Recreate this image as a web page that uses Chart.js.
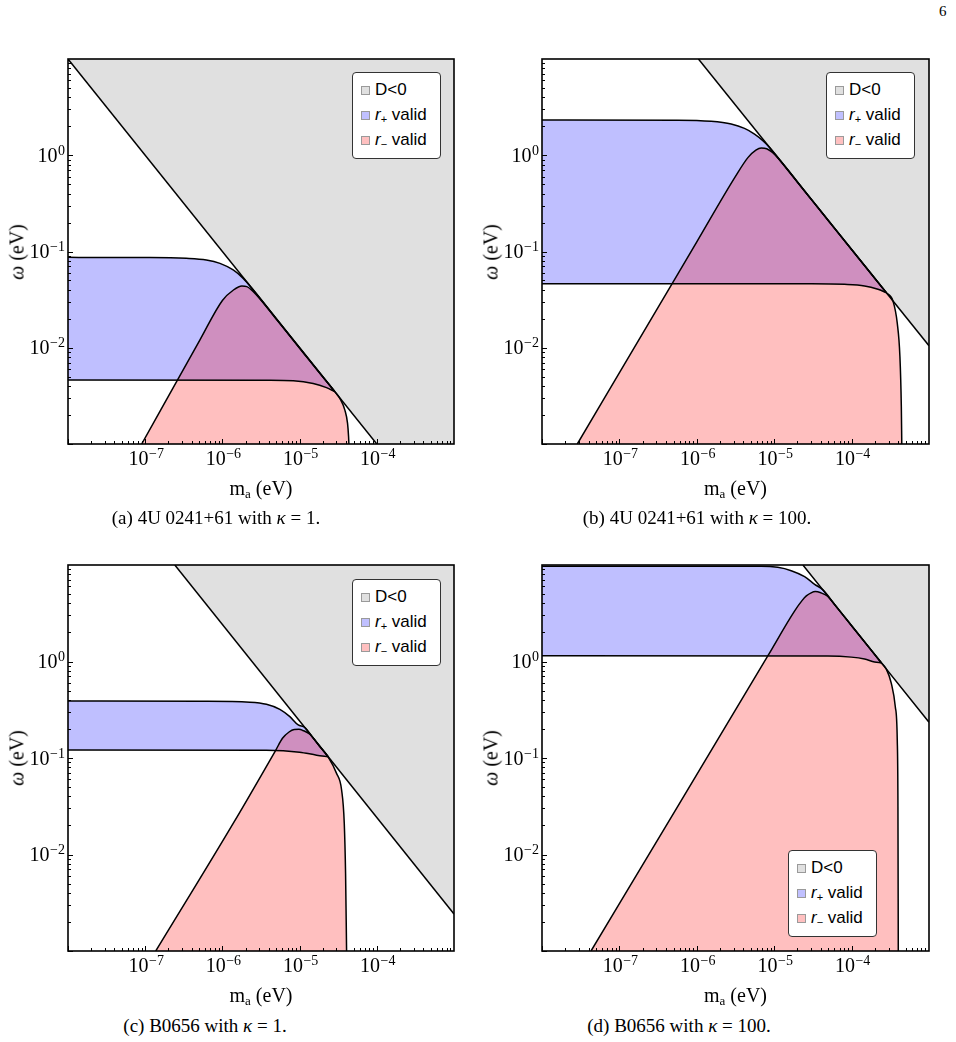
<!DOCTYPE html>
<html>
<head>
<meta charset="utf-8">
<title>r+ / r- validity regions</title>
<script src="https://cdn.jsdelivr.net/npm/chart.js@4.4.1/dist/chart.umd.min.js"></script>
<style>
html, body { margin: 0; padding: 0; background: #fff; }
body { position: relative; width: 956px; height: 1042px; overflow: hidden; font-family: "Liberation Serif", "DejaVu Serif", serif; color: #000; }
canvas { position: absolute; }
.lbl { position: absolute; white-space: nowrap; transform: translate(-50%, -50%); }
.xt { font-size: 20px; }
.xt sub { font-size: 13px; vertical-align: -3px; line-height: 0; }
.yt { font-size: 20px; transform: translate(-50%, -50%) rotate(-90deg); }
.cap { font-size: 19px; }
.page { position: absolute; left: 939px; top: 3px; font-size: 15px; }
.legend { position: absolute; width: 87px; height: 85px; border: 1px solid #333; border-radius: 4px; background: #fff; font-family: "Liberation Sans", Arial, sans-serif; font-size: 17px; }
.legend .row { position: absolute; left: 8px; height: 20px; line-height: 20px; white-space: nowrap; }
.legend .sw { position: absolute; left: 0; top: 6px; width: 7px; height: 7px; border: 1px solid #9a9a9a; }
.legend .tx { position: absolute; left: 14px; top: 0; }
.legend sub { font-size: 11px; vertical-align: -3px; line-height: 0; }
</style>
</head>
<body>
<div class="page">6</div>

<canvas id="pa" width="478" height="470"></canvas>
<canvas id="pb" width="478" height="470"></canvas>
<canvas id="pc" width="478" height="470"></canvas>
<canvas id="pd" width="478" height="470"></canvas>

<script>
// axis ranges (all four panels share them)
const xRange = [1e-8, 1e-3];
const yRange = [1e-3, 10];
const xLabelPowers = [-7, -6, -5, -4];
const yLabelPowers = [0, -1, -2];

const captions = [
  '(a) 4U 0241+61 with <i>κ</i> = 1.',
  '(b) 4U 0241+61 with <i>κ</i> = 100.',
  '(c) B0656 with <i>κ</i> = 1.',
  '(d) B0656 with <i>κ</i> = 100.'
];

// ---- (a) 4U 0241+61, kappa = 1 ----  points are [m_a, omega] in eV
const dLineA  = [[1e-8, 10], [1e-3, 1e-4]];
const upperA  = [[1e-8, 0.0869], [1.15e-7, 0.0866], [3.4e-7, 0.0849], [6.2e-7, 0.0816], [9.3e-7, 0.0753],
                 [1.38e-6, 0.0643], [1.86e-6, 0.0526], [2.4e-6, 0.0417]];
const edgeA   = [[5e-6, 0.02], [1e-5, 0.01], [2.86e-5, 0.0035]];
const lowerA  = [[1e-8, 0.00462], [4e-6, 0.0046], [8.3e-6, 0.00455], [1.5e-5, 0.00426], [2.23e-5, 0.00385], [2.86e-5, 0.0035]];
const minusA  = [[9e-8, 0.001], [5.1e-7, 0.012], [1.0e-6, 0.031], [1.39e-6, 0.0398], [1.79e-6, 0.0438], [2.07e-6, 0.0432],
                 [2.5e-6, 0.0385], [5e-6, 0.0198], [1e-5, 0.0099], [2e-5, 0.00495], [2.86e-5, 0.0035], [3.33e-5, 0.00296],
                 [3.86e-5, 0.00225], [4.18e-5, 0.00164], [4.31e-5, 0.00119], [4.35e-5, 0.001]];

// ---- (b) 4U 0241+61, kappa = 100 ----
const dLineB  = [[1.05e-6, 10], [1e-3, 0.0105]];
const upperB  = [[1e-8, 2.32], [5.7e-7, 2.31], [1.53e-6, 2.25], [2.78e-6, 2.11], [4.13e-6, 1.9], [5.57e-6, 1.66],
                 [7.13e-6, 1.42], [8.5e-6, 1.235]];
const edgeB   = [[2e-5, 0.525], [5e-5, 0.21], [1e-4, 0.105], [2.81e-4, 0.0374]];
const lowerB  = [[1e-8, 0.0463], [3e-5, 0.0462], [8.1e-5, 0.0456], [1.47e-4, 0.0439], [2.19e-4, 0.0405], [2.81e-4, 0.0374]];
const minusB  = [[2.86e-8, 0.001], [3.16e-7, 0.0263], [1e-6, 0.126], [3.16e-6, 0.603], [4.6e-6, 0.95], [5.8e-6, 1.13],
                 [6.8e-6, 1.19], [8e-6, 1.17], [9.5e-6, 1.07], [1.2e-5, 0.875], [3e-5, 0.35], [1e-4, 0.105],
                 [2.81e-4, 0.0374], [3.42e-4, 0.0307], [3.89e-4, 0.018], [4.21e-4, 0.00807], [4.39e-4, 0.00244], [4.45e-4, 0.001]];

// ---- (c) B0656, kappa = 1 ----
const dLineC  = [[2.42e-7, 10], [1e-3, 0.00242]];
const upperC  = [[1e-8, 0.39], [5.1e-7, 0.387], [2.26e-6, 0.378], [3.72e-6, 0.36], [5.55e-6, 0.319], [7.48e-6, 0.268],
                 [9.6e-6, 0.22], [1.17e-5, 0.207]];
const edgeC   = [[1.5e-5, 0.161], [2.35e-5, 0.103]];
const lowerC  = [[1e-8, 0.121], [3.72e-6, 0.1205], [1e-5, 0.115], [1.66e-5, 0.107], [2.35e-5, 0.103]];
const minusC  = [[1.37e-7, 0.001], [1.38e-6, 0.021], [4.92e-6, 0.121], [6.0e-6, 0.16], [7.3e-6, 0.186], [8.5e-6, 0.197],
                 [9.8e-6, 0.198], [1.1e-5, 0.193], [1.36e-5, 0.176], [1.8e-5, 0.133], [2.35e-5, 0.102], [3.01e-5, 0.0693],
                 [3.5e-5, 0.0466], [3.79e-5, 0.021], [3.94e-5, 0.00638], [4.06e-5, 0.001]];

// ---- (d) B0656, kappa = 100 ----
const dLineD  = [[2.35e-5, 10], [1e-3, 0.235]];
const upperD  = [[1e-8, 9.7], [6.8e-6, 9.7], [1.11e-5, 9.46], [1.66e-5, 8.73], [2.47e-5, 7.57], [3.33e-5, 6.31], [4.26e-5, 5.52]];
const edgeD   = [[6e-5, 3.92], [1e-4, 2.35], [2.42e-4, 0.971]];
const lowerD  = [[1e-8, 1.15], [4.94e-5, 1.14], [9.9e-5, 1.11], [1.47e-4, 1.06], [1.98e-4, 0.99], [2.42e-4, 0.971]];
const minusD  = [[4.3e-8, 0.001], [5.7e-7, 0.0317], [8.3e-6, 1.15], [1.83e-5, 3.33], [2.3e-5, 4.3], [2.6e-5, 4.78],
                 [3.0e-5, 5.15], [3.4e-5, 5.3], [4.0e-5, 5.15], [4.9e-5, 4.75], [6e-5, 3.91], [1e-4, 2.35], [2.42e-4, 0.971],
                 [2.8e-4, 0.838], [3.26e-4, 0.594], [3.67e-4, 0.34], [3.89e-4, 0.154], [3.97e-4, 0.0313], [4.01e-4, 0.001]];

// page layout of the four panels: canvas box [x, y, w, h], plot frame [l, t, r, b]
const panels = [
  { id: 'pa', box: [0, 40, 478, 470],   area: [68, 59, 454, 444],   d: dLineA, up: upperA, edge: edgeA, low: lowerA, minus: minusA, legend: [352, 72] },
  { id: 'pb', box: [478, 40, 478, 470], area: [542, 59, 929, 444],  d: dLineB, up: upperB, edge: edgeB, low: lowerB, minus: minusB, legend: [826, 72] },
  { id: 'pc', box: [0, 545, 478, 470],  area: [68, 565, 454, 951],  d: dLineC, up: upperC, edge: edgeC, low: lowerC, minus: minusC, legend: [352, 579] },
  { id: 'pd', box: [478, 545, 478, 470], area: [542, 565, 929, 951], d: dLineD, up: upperD, edge: edgeD, low: lowerD, minus: minusD, legend: [788, 850] }
];

const GRAY = '#e0e0e0';
const BLUE = 'rgba(0, 0, 255, 0.25)';
const RED = 'rgba(255, 0, 0, 0.25)';
const SERIF = '"Liberation Serif", "DejaVu Serif", serif';

function pts(arr) {
  return arr.map(p => ({ x: p[0], y: p[1] }));
}

function minusSign(n) {
  return n < 0 ? '\u2212' + (-n) : String(n);
}

// draws "10" with a raised exponent
function drawPower(ctx, x, y, p, align) {
  const sup = minusSign(p);
  ctx.font = '20px ' + SERIF;
  const wb = ctx.measureText('10').width;
  ctx.font = '14px ' + SERIF;
  const ws = ctx.measureText(sup).width;
  const w = wb + ws + 0.5;
  const x0 = align === 'center' ? x - w / 2 : x - w;
  ctx.textAlign = 'left';
  ctx.textBaseline = 'alphabetic';
  ctx.font = '20px ' + SERIF;
  ctx.fillText('10', x0, y);
  ctx.font = '14px ' + SERIF;
  ctx.fillText(sup, x0 + wb + 0.5, y - 7);
}

// Mathematica-like frame: inward ticks on left and bottom, labels only on decades
const frameTicks = {
  id: 'frameTicks',
  afterDatasetsDraw(chart) {
    const { ctx, chartArea: a } = chart;
    const xs = chart.scales.x, ys = chart.scales.y;
    ctx.save();
    ctx.strokeStyle = '#000';
    ctx.lineWidth = 1;
    ctx.beginPath();
    for (let p = -8; p < -3; p++) {
      for (let k = 1; k <= 9; k++) {
        const px = Math.round(xs.getPixelForValue(k * Math.pow(10, p))) + 0.5;
        const len = k === 1 ? 5 : 3;
        ctx.moveTo(px, a.bottom);
        ctx.lineTo(px, a.bottom - len);
      }
    }
    for (let p = -3; p < 1; p++) {
      for (let k = 1; k <= 9; k++) {
        const py = Math.round(ys.getPixelForValue(k * Math.pow(10, p))) + 0.5;
        const len = k === 1 ? 5 : 3;
        ctx.moveTo(a.left, py);
        ctx.lineTo(a.left + len, py);
      }
    }
    ctx.stroke();

    ctx.lineWidth = 1.6;
    ctx.strokeRect(a.left, a.top, a.right - a.left, a.bottom - a.top);

    ctx.fillStyle = '#000';
    xLabelPowers.forEach(p => {
      drawPower(ctx, xs.getPixelForValue(Math.pow(10, p)) + 1, a.bottom + 21, p, 'center');
    });
    yLabelPowers.forEach(p => {
      drawPower(ctx, a.left - 3, ys.getPixelForValue(Math.pow(10, p)) + 6.5, p, 'right');
    });
    ctx.restore();
  }
};

function makeChart(pn) {
  const [bx, by, bw, bh] = pn.box;
  const [l, t, r, b] = pn.area;
  const el = document.getElementById(pn.id);
  el.style.left = bx + 'px';
  el.style.top = by + 'px';

  const line = { showLine: true, pointRadius: 0, borderColor: '#000', borderWidth: 1.5, cubicInterpolationMode: 'monotone' };

  new Chart(el.getContext('2d'), {
    type: 'scatter',
    data: {
      datasets: [
        Object.assign({ label: 'r- valid', data: pts(pn.minus), fill: 'start', backgroundColor: RED }, line),
        Object.assign({ label: 'r+ valid', data: pts(pn.up.concat(pn.edge)), fill: '+1', backgroundColor: BLUE }, line),
        Object.assign({ label: 'r+ lower', data: pts(pn.low), fill: false }, line),
        Object.assign({ label: 'D<0', data: pts(pn.d), fill: 'end', backgroundColor: GRAY }, line)
      ]
    },
    options: {
      responsive: false,
      animation: false,
      events: [],
      devicePixelRatio: 1,
      layout: { padding: { left: l - bx, top: t - by, right: bx + bw - r, bottom: by + bh - b } },
      scales: {
        x: { type: 'logarithmic', min: xRange[0], max: xRange[1], display: false },
        y: { type: 'logarithmic', min: yRange[0], max: yRange[1], display: false }
      },
      plugins: {
        legend: { display: false },
        tooltip: { enabled: false },
        filler: { drawTime: 'beforeDatasetsDraw' }
      }
    },
    plugins: [frameTicks]
  });

  // axis titles
  const cx = (l + r) / 2, cy = (t + b) / 2;
  const xt = document.createElement('div');
  xt.className = 'lbl xt';
  xt.style.left = cx + 'px';
  xt.style.top = (b + 44) + 'px';
  xt.innerHTML = 'm<sub>a</sub> (eV)';
  document.body.appendChild(xt);

  const yt = document.createElement('div');
  yt.className = 'lbl yt';
  yt.style.left = (l - 51) + 'px';
  yt.style.top = cy + 'px';
  yt.innerHTML = '<i>ω</i> (eV)';
  document.body.appendChild(yt);

  // legend box
  const lg = document.createElement('div');
  lg.className = 'legend';
  lg.style.left = pn.legend[0] + 'px';
  lg.style.top = pn.legend[1] + 'px';
  const rows = [
    [GRAY, 'D&lt;0'],
    ['#c0c0ff', '<i>r</i><sub>+</sub> valid'],
    ['#ffc0c0', '<i>r</i><sub>−</sub> valid']
  ];
  rows.forEach((row, i) => {
    const d = document.createElement('div');
    d.className = 'row';
    d.style.top = (7 + i * 25) + 'px';
    d.innerHTML = '<span class="sw" style="background:' + row[0] + '"></span><span class="tx">' + row[1] + '</span>';
    lg.appendChild(d);
  });
  document.body.appendChild(lg);
}

panels.forEach(makeChart);

// sub-figure captions
const capPos = [[216, 518], [697, 518], [205, 1026], [679, 1026]];
captions.forEach((txt, i) => {
  const c = document.createElement('div');
  c.className = 'lbl cap';
  c.style.left = capPos[i][0] + 'px';
  c.style.top = capPos[i][1] + 'px';
  c.innerHTML = txt;
  document.body.appendChild(c);
});
</script>
</body>
</html>
